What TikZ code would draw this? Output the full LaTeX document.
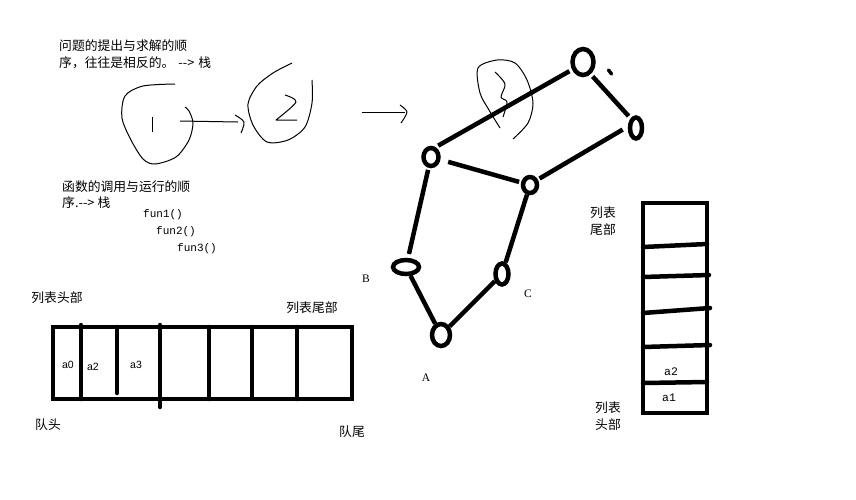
\documentclass[tikz,border=0pt]{standalone}
\usepackage{fontspec}
\newfontfamily\cjk{Noto Sans CJK SC}
\newfontfamily\pxmono{Liberation Mono}
\newfontfamily\pxsans{Liberation Sans}
\newfontfamily\pxserif{Liberation Serif}
\usetikzlibrary{shapes.geometric}
\tikzset{
  texto/.style={inner sep=0pt, anchor=west, font=\cjk\fontsize{12.8}{15}\selectfont},
  rotulo/.style={inner sep=0pt, font=\cjk\fontsize{12.8}{17}\selectfont, align=left},
  codigo/.style={inner sep=0pt, anchor=west, font=\pxmono\fontsize{11}{12}\selectfont},
  letra/.style={inner sep=0pt, font=\pxserif\fontsize{11.5}{12}\selectfont},
  celda/.style={inner sep=0pt, font=\pxsans\fontsize{10.5}{12}\selectfont},
  trazo/.style={line width=1pt, line join=round},
  grueso/.style={line width=4.5pt, line cap=round},
  vertice/.style={draw, ellipse, line width=4.5pt, inner sep=0pt},
}
\begin{document}
\begin{tikzpicture}[x=1pt, y=-1pt]
    \useasboundingbox (0,0) rectangle (856,499);

    % Texto: orden de problema y solucion
    \node[texto] (p1) at (59,46) {问题的提出与求解的顺};
    \node[texto] (p2) at (59,63) {序，往往是相反的。\hspace{4pt}-->\hspace{4pt}栈};

    % Texto: llamadas de funciones
    \node[texto] (f1) at (62,187) {函数的调用与运行的顺};
    \node[texto] (f2) at (62,203) {序.-->\hspace{3pt}栈};
    \node[codigo] (c1) at (143,215) {fun1()};
    \node[codigo] (c2) at (156,232) {fun2()};
    \node[codigo] (c3) at (177,249) {fun3()};

    % Garabato 1 y flecha
    \draw[trazo] plot[smooth] coordinates {(175,84) (143,86) (125,96) (122,118) (131,140) (143,159) (155,164) (176,157) (189,140) (193,123) (189,111) (185,107)};
    \draw[trazo] (152,117) -- (152,132);
    \draw[trazo] (180,121) -- (238,122);
    \draw[trazo] plot[smooth] coordinates {(235,115) (244,122) (241,133)};

    % Garabato 2
    \draw[trazo] plot[smooth] coordinates {(292,63) (273,73) (257,86) (248,104) (253,125) (267,142) (288,140) (305,127) (312,103) (312,80)};
    \draw[trazo] plot[smooth] coordinates {(285,95) (296,102) (276,120)} -- (297,120);

    % Flecha hacia el grafo
    \draw[trazo] (362,112) -- (405,112);
    \draw[trazo] plot[smooth] coordinates {(400,105) (407,112) (401,123)};

    % Garabato 3
    \draw[trazo] plot[smooth] coordinates {(500,128) (489,110) (480,93) (478,68) (497,60) (515,63) (527,80) (533,103) (528,123) (513,139)};
    \draw[trazo] plot[smooth] coordinates {(495,72) (505,84) (501,97) (507,102) (503,117)};

    % Vertices del grafo
    \node[vertice, minimum width=21pt, minimum height=26pt] (top) at (583,62) {};
    \node[vertice, minimum width=12pt, minimum height=21pt] (der) at (636,128) {};
    \node[vertice, minimum width=15pt, minimum height=18pt] (izq) at (431,157) {};
    \node[vertice, minimum width=14pt, minimum height=16pt] (med) at (530,185) {};
    \node[vertice, minimum width=26pt, minimum height=14pt] (vb) at (406,267) {};
    \node[vertice, minimum width=13pt, minimum height=21pt] (vc) at (502,274) {};
    \node[vertice, minimum width=18pt, minimum height=22pt] (va) at (441,335) {};
    \coordinate (punto) at (610,72);

    % Aristas
    \draw[grueso, line cap=butt, shorten <=3pt, shorten >=3pt] (izq.65) -- (top.215);
    \draw[grueso, line cap=butt, shorten <=3pt, shorten >=3pt] (top.302) -- (der.119);
    \draw[grueso, line cap=butt, shorten <=6pt, shorten >=2pt] (der.170) -- (med.35);
    \draw[grueso, line cap=butt, shorten <=8pt, shorten >=2pt] (izq) -- (med);
    \draw[grueso, line cap=butt, shorten <=2pt, shorten >=4pt] (izq) -- (vb);
    \draw[grueso, line cap=butt] (med) -- (vc);
    \draw[grueso, line cap=butt] (vb) -- (va);
    \draw[grueso, line cap=butt] (vc) -- (va);
    \draw[line width=3.5pt, line cap=round] ([shift={(-1.5,-2)}]punto) -- ([shift={(1.5,2)}]punto);

    % Etiquetas de vertices
    \node[letra] (lb) at (366,279) {B};
    \node[letra] (lc) at (528,294) {C};
    \node[letra] (la) at (426,378) {A};

    % Cola
    \draw[grueso, line cap=butt] (53,327) rectangle (352,399);
    \draw[grueso] (81,325) -- (81,399);
    \draw[grueso] (117,327) -- (117,393);
    \draw[grueso] (160,325) -- (160,407);
    \draw[grueso] (209,327) -- (209,399);
    \draw[grueso] (252,327) -- (252,398);
    \draw[grueso] (297,327) -- (297,399);
    \node[celda] (a0) at (68,365) {a0};
    \node[celda] (a2) at (93,367) {a2};
    \node[celda] (a3) at (136,365) {a3};
    \node[rotulo] (cabeza) at (57,298) {列表头部};
    \node[rotulo] (cola) at (312,308) {列表尾部};
    \node[rotulo] (qh) at (48,425) {队头};
    \node[rotulo] (qt) at (352,432) {队尾};

    % Pila
    \draw[grueso, line cap=butt] (643,203) rectangle (707,413);
    \draw[grueso] (643,247) -- (707,244);
    \draw[grueso] (643,277) -- (709,275);
    \draw[grueso] (643,313) -- (710,308);
    \draw[grueso] (643,347) -- (710,345);
    \draw[grueso] (643,383) -- (707,382);
    \node[letra, font=\pxmono\fontsize{11.5}{12}\selectfont] (s2) at (671,372) {a2};
    \node[letra, font=\pxmono\fontsize{11.5}{12}\selectfont] (s1) at (669,398) {a1};
    \node[rotulo] (tope) at (603,221) {列表\\尾部};
    \node[rotulo] (base) at (608,416) {列表\\头部};
\end{tikzpicture}
\end{document}
